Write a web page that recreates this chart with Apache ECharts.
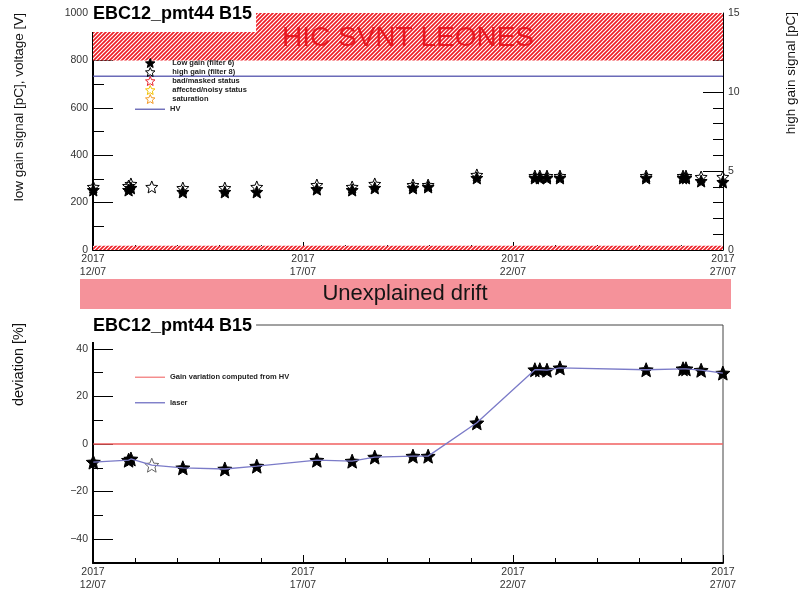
<!DOCTYPE html>
<html>
<head>
<meta charset="utf-8">
<title>EBC12_pmt44 B15</title>
<script src="https://cdn.jsdelivr.net/npm/echarts@6/dist/echarts.min.js"></script>
<style>
  html, body { margin: 0; padding: 0; background: #fff; }
  #chart { width: 801px; height: 594px; }
</style>
</head>
<body>
<div id="chart"></div>
<script>
// Laser run timestamps (UTC)
const sampleTimes = [
  '2017-07-12 00:10', '2017-07-12 20:20', '2017-07-12 21:40', '2017-07-13 09:35',
  '2017-07-14 03:20', '2017-07-15 03:20', '2017-07-15 21:35', '2017-07-17 07:55',
  '2017-07-18 04:05', '2017-07-18 17:00', '2017-07-19 14:50', '2017-07-19 23:30',
  '2017-07-21 03:20', '2017-07-22 12:30', '2017-07-22 15:20', '2017-07-22 19:25',
  '2017-07-23 02:50', '2017-07-25 04:05', '2017-07-26 01:10', '2017-07-26 02:50',
  '2017-07-26 11:30', '2017-07-26 23:55'
];
// Low gain signal [pC] (null: no low gain measurement)
const lowGain = [253, 253, 262, null, 245, 245, 245, 257, 253, 262, 262, 266,
                 304, 304, 304, 304, 304, 304, 304, 304, 291, 287];
// High gain signal [pC]
const highGain = [3.99, 4.05, 4.18, 3.99, 3.92, 3.92, 3.99, 4.11, 3.99, 4.18, 4.11, 4.11,
                  4.75, 4.68, 4.68, 4.68, 4.68, 4.68, 4.68, 4.68, 4.62, 4.62];
// PMT high voltage [V]
const hvVoltage = [733, 733, 733, 733, 733, 733, 733, 733, 733, 733, 733, 733,
                   733, 733, 733, 733, 733, 733, 733, 733, 733, 733];
// Laser gain deviation [%]
const laserDeviation = [-7.6, -6.8, -6.3, -8.9, -10.0, -10.5, -9.3, -6.8, -7.2, -5.5, -5.1, -5.1,
                        8.9, 31.2, 31.2, 31.0, 32.0, 31.2, 31.6, 31.6, 31.0, 29.8];
// Gain variation expected from HV [%]
const hvGainDeviation = [0, 0, 0, 0, 0, 0, 0, 0, 0, 0, 0, 0,
                         0, 0, 0, 0, 0, 0, 0, 0, 0, 0];
// Axis tick values
const lowGainTicks = [0, 200, 400, 600, 800, 1000];
const deviationTicks = [-40, -20, 0, 20, 40];
const deviationMinorTicks = [-30, -10, 10, 30];

const BASE = '2017-07-12';
const baseMs = Date.parse(BASE + 'T00:00:00Z');
const DAY = 86400000;
const toDays = s => {
  const [d, t] = s.split(' ');
  return (Date.parse(d + 'T' + t + ':00Z') - baseMs) / DAY;
};
const days = sampleTimes.map(toDays);
const pair = arr => days.map((d, i) => [d, arr[i]]);

const STAR = 'path://M0,-10L2.645,-3.641L9.511,-3.09L4.28,1.391L5.878,8.09L0,4.5L-5.878,8.09L-4.28,1.391L-9.511,-3.09L-2.645,-3.641Z';
const LINE_ICON = 'path://M0,0L30,0L30,1.4L0,1.4Z';
const FONT = 'Liberation Sans, Arial, sans-serif';

// red / white diagonal hatch used for the masked signal ranges
function hatchCanvas() {
  const c = document.createElement('canvas');
  c.width = 4; c.height = 4;
  const g = c.getContext('2d');
  g.fillStyle = '#ee1d25';
  g.fillRect(0, 0, 4, 4);
  g.strokeStyle = '#ffffff';
  g.lineWidth = 1.2;
  g.beginPath();
  g.moveTo(0, 4); g.lineTo(4, 0);
  g.moveTo(-2, 2); g.lineTo(2, -2);
  g.moveTo(2, 6); g.lineTo(6, 2);
  g.stroke();
  return c;
}
const hatch = { image: hatchCanvas(), repeat: 'repeat' };

const dateLabel = v => {
  const d = new Date(baseMs + v * DAY);
  const dd = String(d.getUTCDate()).padStart(2, '0');
  const mm = String(d.getUTCMonth() + 1).padStart(2, '0');
  return d.getUTCFullYear() + '\n' + dd + '/' + mm;
};

function timeAxis(gridIndex, lineWidth) {
  return {
    type: 'value', gridIndex, min: 0, max: 15, interval: 5,
    axisLine: { show: true, onZero: false, lineStyle: { color: '#000', width: lineWidth } },
    axisTick: { show: true, inside: true, length: 8, lineStyle: { color: '#000' } },
    minorTick: { show: true, splitNumber: 5, length: 5, lineStyle: { color: '#000' } },
    splitLine: { show: false },
    axisLabel: { formatter: dateLabel, color: '#333', fontSize: 10.5, lineHeight: 13, margin: 3, fontFamily: FONT }
  };
}

const chart = echarts.init(document.getElementById('chart'), null, { renderer: 'canvas' });

const legendText = { fontSize: 7.5, fontWeight: 'bold', color: '#222', fontFamily: FONT, lineHeight: 8.5 };

chart.setOption({
  animation: false,
  backgroundColor: '#fff',
  textStyle: { fontFamily: FONT },
  title: [
    { text: 'EBC12_pmt44 B15', left: 88, top: 0, padding: [5, 4, 9, 5], backgroundColor: '#fff',
      textStyle: { fontSize: 18, fontWeight: 'bold', color: '#000', fontFamily: FONT } },
    { text: 'EBC12_pmt44 B15', left: 80, top: 312, padding: [5, 4, 7, 13], backgroundColor: '#fff',
      textStyle: { fontSize: 18, fontWeight: 'bold', color: '#000', fontFamily: FONT } }
  ],
  legend: [
    { data: ['Low gain (filter 6)', 'high gain (filter 8)', 'bad/masked status', 'affected/noisy status', 'saturation'],
      orient: 'vertical', left: 145, top: 58, padding: 0, itemWidth: 34, itemHeight: 9, itemGap: -1,
      selectedMode: false, textStyle: legendText, itemStyle: { borderWidth: 1, opacity: 1 } },
    { data: [{ name: 'HV', icon: LINE_ICON }], orient: 'vertical', left: 135, top: 105, padding: 0,
      itemWidth: 30, itemHeight: 10, selectedMode: false, textStyle: legendText },
    { data: [{ name: 'Gain variation computed from HV', icon: LINE_ICON }, { name: 'laser', icon: LINE_ICON }],
      orient: 'vertical', left: 135, top: 373, padding: 0,
      itemWidth: 30, itemHeight: 10, itemGap: 17, selectedMode: false, textStyle: legendText }
  ],
  grid: [
    { left: 93, top: 13, width: 630, height: 237, containLabel: false },
    { left: 93, top: 325, width: 630, height: 238, containLabel: false, show: true, borderColor: '#444', borderWidth: 1 }
  ],
  xAxis: [timeAxis(0, 1), timeAxis(1, 2)],
  yAxis: [
    { type: 'value', gridIndex: 0, min: 0, max: 1000, interval: 200, position: 'left',
      axisLine: { show: true, lineStyle: { color: '#000', width: 2 } },
      axisTick: { show: true, inside: true, length: 20, lineStyle: { color: '#000' }, customValues: lowGainTicks },
      minorTick: { show: true, splitNumber: 2, length: 11, lineStyle: { color: '#000' } },
      splitLine: { show: false },
      axisLabel: { color: '#333', fontSize: 10.5, margin: 5, fontFamily: FONT, formatter: v => String(v) } },
    { type: 'value', gridIndex: 0, min: 0, max: 15, interval: 5, position: 'right',
      axisLine: { show: true, lineStyle: { color: '#000', width: 1 } },
      axisTick: { show: true, inside: true, length: 20, lineStyle: { color: '#000' } },
      minorTick: { show: true, splitNumber: 5, length: 10, lineStyle: { color: '#000' } },
      splitLine: { show: false },
      axisLabel: { color: '#333', fontSize: 10.5, margin: 5, fontFamily: FONT } },
    { type: 'value', gridIndex: 1, min: -50, max: 50, interval: 10, position: 'left',
      axisLine: { show: true, lineStyle: { color: '#000', width: 2 } },
      axisTick: { show: true, inside: true, length: 20, lineStyle: { color: '#000' }, customValues: deviationTicks },
      splitLine: { show: false },
      axisLabel: { customValues: deviationTicks, color: '#333', fontSize: 10.5, margin: 5, fontFamily: FONT,
                   formatter: v => (v < 0 ? '\u2212' + (-v) : String(v)) } },
    { type: 'value', gridIndex: 1, min: -50, max: 50, interval: 10, position: 'left',
      axisLine: { show: false },
      axisTick: { show: true, inside: true, length: 10, lineStyle: { color: '#000' }, customValues: deviationMinorTicks },
      splitLine: { show: false },
      axisLabel: { show: false } }
  ],
  series: [
    // masked ranges + HV
    { name: 'HV', type: 'line', xAxisIndex: 0, yAxisIndex: 0, data: pair(hvVoltage),
      symbol: 'none', lineStyle: { color: '#6a6ab8', width: 1.5 }, itemStyle: { color: '#6a6ab8' }, z: 3,
      markArea: {
        silent: true,
        itemStyle: { color: hatch },
        label: { show: true, position: 'inside', color: 'rgba(228,14,24,0.9)', fontSize: 28, fontFamily: FONT, offset: [0, 2] },
        data: [
          [{ yAxis: 800, name: 'HIC SVNT LEONES' }, { yAxis: 1000 }],
          [{ yAxis: 0, name: '', label: { show: false } }, { yAxis: 18 }]
        ]
      } },
    { name: 'high gain (filter 8)', type: 'scatter', xAxisIndex: 0, yAxisIndex: 1, data: pair(highGain),
      symbol: STAR, symbolSize: 12, clip: false,
      itemStyle: { color: 'rgba(255,255,255,0)', borderColor: '#000', borderWidth: 1, opacity: 1 }, z: 4 },
    { name: 'Low gain (filter 6)', type: 'scatter', xAxisIndex: 0, yAxisIndex: 0,
      data: pair(lowGain).filter(p => p[1] != null),
      symbol: STAR, symbolSize: 12, clip: false,
      itemStyle: { color: '#000', borderColor: '#000', borderWidth: 1, opacity: 1 }, z: 5 },
    { name: 'bad/masked status', type: 'scatter', xAxisIndex: 0, yAxisIndex: 0, data: [], symbol: STAR,
      itemStyle: { color: 'rgba(255,255,255,0)', borderColor: '#e8242c', borderWidth: 1, opacity: 1 } },
    { name: 'affected/noisy status', type: 'scatter', xAxisIndex: 0, yAxisIndex: 0, data: [], symbol: STAR,
      itemStyle: { color: 'rgba(255,255,255,0)', borderColor: '#f2c200', borderWidth: 1, opacity: 1 } },
    { name: 'saturation', type: 'scatter', xAxisIndex: 0, yAxisIndex: 0, data: [], symbol: STAR,
      itemStyle: { color: 'rgba(255,255,255,0)', borderColor: '#f39a25', borderWidth: 1, opacity: 1 } },

    // deviation panel
    { name: 'Gain variation computed from HV', type: 'line', xAxisIndex: 1, yAxisIndex: 2, data: pair(hvGainDeviation),
      symbol: 'none', lineStyle: { color: 'rgba(240,95,95,0.75)', width: 2 }, itemStyle: { color: 'rgba(240,95,95,0.75)' }, z: 2 },
    { type: 'scatter', xAxisIndex: 1, yAxisIndex: 2, clip: false,
      data: days.map((d, i) => lowGain[i] == null
        ? { value: [d, laserDeviation[i]], itemStyle: { color: 'rgba(255,255,255,0)', borderColor: '#666', borderWidth: 1 } }
        : { value: [d, laserDeviation[i]] }),
      symbol: STAR, symbolSize: 14,
      itemStyle: { color: '#000', borderColor: '#000', borderWidth: 1, opacity: 1 }, z: 3 },
    { name: 'laser', type: 'line', xAxisIndex: 1, yAxisIndex: 2, data: pair(laserDeviation),
      symbol: 'none', lineStyle: { color: '#7b7bc8', width: 1.3 }, itemStyle: { color: '#7b7bc8' }, z: 4 }
  ],
  graphic: [
    { type: 'rect', shape: { x: 80, y: 279, width: 651, height: 30 }, style: { fill: '#f5929a' }, silent: true },
    { type: 'text', x: 405, y: 294, silent: true,
      style: { text: 'Unexplained drift', fontSize: 22, fontFamily: FONT, fill: '#151515', align: 'center', verticalAlign: 'middle' } },
    { type: 'text', x: 19, y: 13, rotation: Math.PI / 2, silent: true,
      style: { text: 'low gain signal [pC], voltage [V]', fontSize: 13.5, fontFamily: FONT, fill: '#111', align: 'right', verticalAlign: 'middle' } },
    { type: 'text', x: 791, y: 12, rotation: Math.PI / 2, silent: true,
      style: { text: 'high gain signal [pC]', fontSize: 13.5, fontFamily: FONT, fill: '#111', align: 'right', verticalAlign: 'middle' } },
    { type: 'text', x: 19, y: 323, rotation: Math.PI / 2, silent: true,
      style: { text: 'deviation [%]', fontSize: 14.5, fontFamily: FONT, fill: '#111', align: 'right', verticalAlign: 'middle' } }
  ]
});
</script>
</body>
</html>
